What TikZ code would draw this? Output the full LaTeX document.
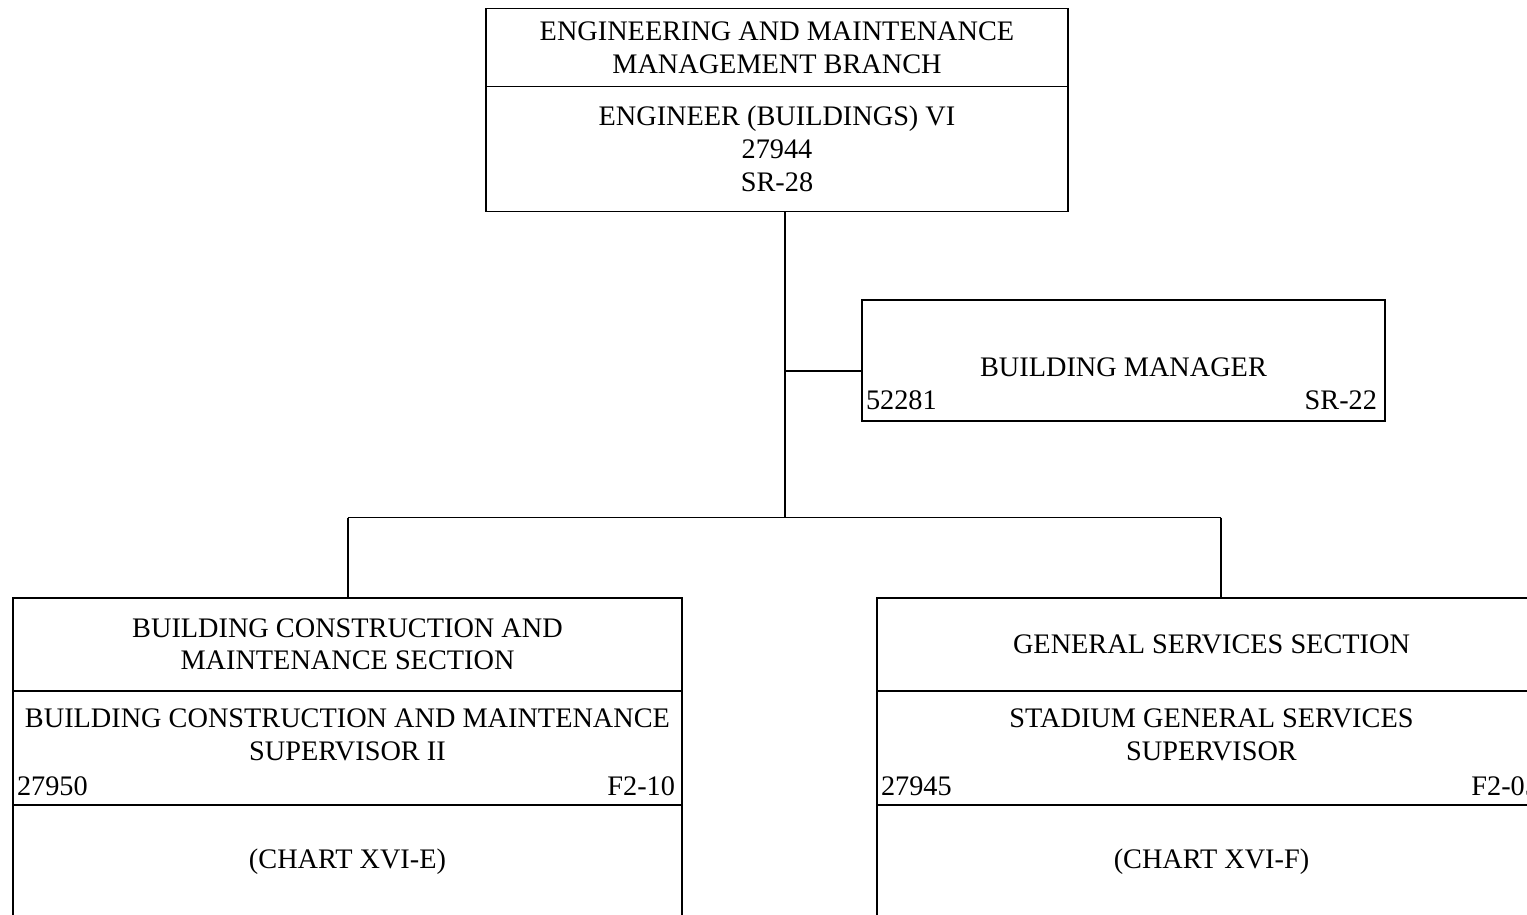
\documentclass[tikz,border=0pt]{standalone}
\usepackage{fontspec}
\setmainfont{Liberation Serif}
\usetikzlibrary{positioning,calc}

\begin{document}
\begin{tikzpicture}[x=0.02cm, y=-0.02cm, line width=1.1pt,
    every node/.style={font=\fontsize{16.1}{18.7}\selectfont, inner sep=0pt, align=center},
    cell/.style={draw, rectangle, outer sep=0pt, minimum width=13.38cm}]
  \useasboundingbox (0,0) rectangle (1527,914);
  \clip (0,0) rectangle (1527,914);
  \node[cell, minimum width=11.64cm, minimum height=1.56cm] (branch) at (777,47.5) {ENGINEERING AND MAINTENANCE\\MANAGEMENT BRANCH};
  \node[cell, minimum width=11.64cm, minimum height=2.5cm, below=0pt of branch] (eng) {ENGINEER (BUILDINGS) VI\\27944\\SR-28};
  \node[cell, minimum width=10.46cm, minimum height=2.42cm] (mgr) at (1123.5,360.5) {};
  \node[anchor=base] (mgrT) at ($(mgr.north)+(0,76)$) {BUILDING MANAGER};
  \node[anchor=base west] (mgrNo) at ($(mgr.south west)+(3,-12)$) {52281};
  \node[anchor=base east] (mgrGr) at ($(mgr.south east)+(-7,-12)$) {SR-22};
  \foreach \n/\cx/\secname/\posname/\code/\grade/\chart in {
      L/347.5/{BUILDING CONSTRUCTION AND\\MAINTENANCE SECTION}/{BUILDING CONSTRUCTION AND MAINTENANCE\\SUPERVISOR II}/27950/F2-10/XVI-E,
      R/1211.5/{GENERAL SERVICES SECTION}/{STADIUM GENERAL SERVICES\\SUPERVISOR}/27945/F2-05/XVI-F} {
    \node[cell, minimum height=1.87cm] (sec\n) at (\cx,644.3) {\secname};
    \node[cell, minimum height=2.28cm, below=0pt of sec\n] (pos\n) {};
    \node[cell, minimum height=2.28cm, below=0pt of pos\n] (ch\n) {(CHART \chart)};
    \node (posT\n) at ($(pos\n.north)+(0,44)$) {\posname};
    \node[anchor=base west] (posNo\n) at ($(pos\n.south west)+(3,-10)$) {\code};
    \node[anchor=base east] (posGr\n) at ($(pos\n.south east)+(-6,-10)$) {\grade};
  }
  \coordinate (jT) at (785,517.5);
  \coordinate (jM) at (785,371);
  \coordinate (jL) at (347.7,517.5);
  \coordinate (jR) at (1221,517.5);
  \draw (jT |- eng.south) -- (jT);
  \draw (jM) -- (jM -| mgr.west);
  \draw (jL) -- (jR);
  \draw (jL) -- (jL |- secL.north);
  \draw (jR) -- (jR |- secR.north);
\end{tikzpicture}
\end{document}
